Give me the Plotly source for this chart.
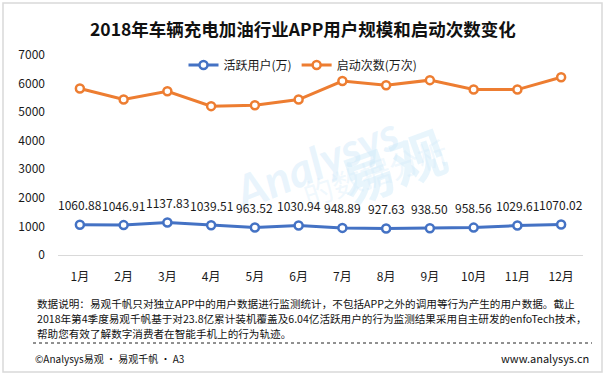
import plotly.graph_objects as go

months = ["1月", "2月", "3月", "4月", "5月", "6月", "7月", "8月", "9月", "10月", "11月", "12月"]
active_users = [1060.88, 1046.91, 1137.83, 1039.51, 963.52, 1030.94, 948.89, 927.63, 938.50, 958.56, 1029.61, 1070.02]
launches = [5830, 5440, 5730, 5210, 5240, 5440, 6090, 5940, 6120, 5790, 5790, 6220]
y_ticks = [0, 1000, 2000, 3000, 4000, 5000, 6000, 7000]

title = "2018年车辆充电加油行业APP用户规模和启动次数变化"
note_lines = [
    "数据说明：易观千帆只对独立APP中的用户数据进行监测统计，不包括APP之外的调用等行为产生的用户数据。截止",
    "2018年第4季度易观千帆基于对23.8亿累计装机覆盖及6.04亿活跃用户的行为监测结果采用自主研发的enfoTech技术，",
    "帮助您有效了解数字消费者在智能手机上的行为轨迹。",
]
footer_left = "©Analysys易观 · 易观千帆 · A3"
footer_right = "www.analysys.cn"

W, H = 606, 376
L, R, T, B = 58, 23, 55, 121
PW, PH = W - L - R, H - T - B

def px(x):
    return (x - L) / PW

def py(y):
    return (H - B - y) / PH

FONT = "Noto Sans CJK SC"
BLUE = "#4472C4"
ORANGE = "#ED7D31"
WM = "rgba(205,232,249,0.45)"

fig = go.Figure()
fig.add_trace(go.Scatter(
    x=months, y=active_users, name="活跃用户(万)", mode="lines+markers",
    line=dict(color=BLUE, width=3),
    marker=dict(size=8, color="white", line=dict(color=BLUE, width=2.5)),
))
fig.add_trace(go.Scatter(
    x=months, y=launches, name="启动次数(万次)", mode="lines+markers",
    line=dict(color=ORANGE, width=3),
    marker=dict(size=8, color="white", line=dict(color=ORANGE, width=2.5)),
))

annotations = []
# watermark
annotations += [
    dict(text="<i><b>Analysys</b></i>", x=px(222), y=py(162), xref="paper", yref="paper",
         showarrow=False, textangle=-22, font=dict(size=46, color=WM, family="Lato")),
    dict(text="<b>易观</b>", x=px(392), y=py(106), xref="paper", yref="paper",
         showarrow=False, textangle=-20, font=dict(size=54, color=WM, family=FONT)),
    dict(text="的数据分析", x=px(375), y=py(172), xref="paper", yref="paper",
         showarrow=False, textangle=-18, font=dict(size=30, color="rgba(205,232,249,0.3)", family=FONT)),
]
# data labels for active users
for m, v in zip(months, active_users):
    annotations.append(dict(text=f"{v:.2f}", x=m, y=v, xref="x", yref="y", yshift=20,
                            showarrow=False, xanchor="center", yanchor="middle",
                            font=dict(size=12, color="#1a1a1a", family=FONT)))
annotations.append(dict(text="<b>" + title + "</b>", x=px(303), xref="paper", y=py(28), yref="paper",
                        xanchor="center", yanchor="middle", showarrow=False,
                        font=dict(size=17.5, color="#111111", family=FONT)))
for i, line in enumerate(note_lines):
    annotations.append(dict(text=line, x=px(35), y=py(303 + 15 * i), xref="paper", yref="paper",
                            xanchor="left", yanchor="middle", showarrow=False,
                            font=dict(size=10.6, color="#111111", family=FONT)))
annotations.append(dict(text=footer_left, x=px(33), y=py(358), xref="paper", yref="paper",
                        xanchor="left", yanchor="middle", showarrow=False,
                        font=dict(size=10, color="#111111", family=FONT)))
annotations.append(dict(text=footer_right, x=px(591), y=py(358), xref="paper", yref="paper",
                        xanchor="right", yanchor="middle", showarrow=False,
                        font=dict(size=11, color="#111111", family=FONT)))

shapes = [
    dict(type="rect", xref="paper", yref="paper", x0=px(3), x1=px(602), y0=py(372), y1=py(3),
         line=dict(color="#d9d9d9", width=1.5), fillcolor="rgba(0,0,0,0)", layer="below"),
    dict(type="line", xref="paper", yref="paper", x0=px(33), x1=px(592), y0=py(343), y1=py(343),
         line=dict(color="#222222", width=1, dash="dot")),
]

fig.update_layout(
    width=W, height=H,
    margin=dict(l=L, r=R, t=T, b=B, pad=0),
    paper_bgcolor="white", plot_bgcolor="white",
    font=dict(family=FONT, size=12, color="#1a1a1a"),
    showlegend=True,
    legend=dict(orientation="h", x=px(303), xanchor="center", y=py(65), yanchor="middle",
                font=dict(size=12, color="#1a1a1a", family=FONT), bgcolor="rgba(0,0,0,0)",
                itemwidth=30),
    annotations=annotations,
    shapes=shapes,
    xaxis=dict(showgrid=False, showline=True, linecolor="#d9d9d9", linewidth=1,
               ticks="", tickfont=dict(size=12, color="#1a1a1a"), ticklabelstandoff=11,
               range=[-0.5, 11.5], fixedrange=True),
    yaxis=dict(range=[0, 7000], tickvals=y_ticks, showgrid=False, zeroline=False,
               showline=False, ticks="", tickfont=dict(size=12, color="#1a1a1a"),
               ticklabelstandoff=12, fixedrange=True),
)

fig.write_html("out.html", config={"displayModeBar": False},
               post_script="document.body.style.margin='0';document.body.style.overflow='hidden';")
